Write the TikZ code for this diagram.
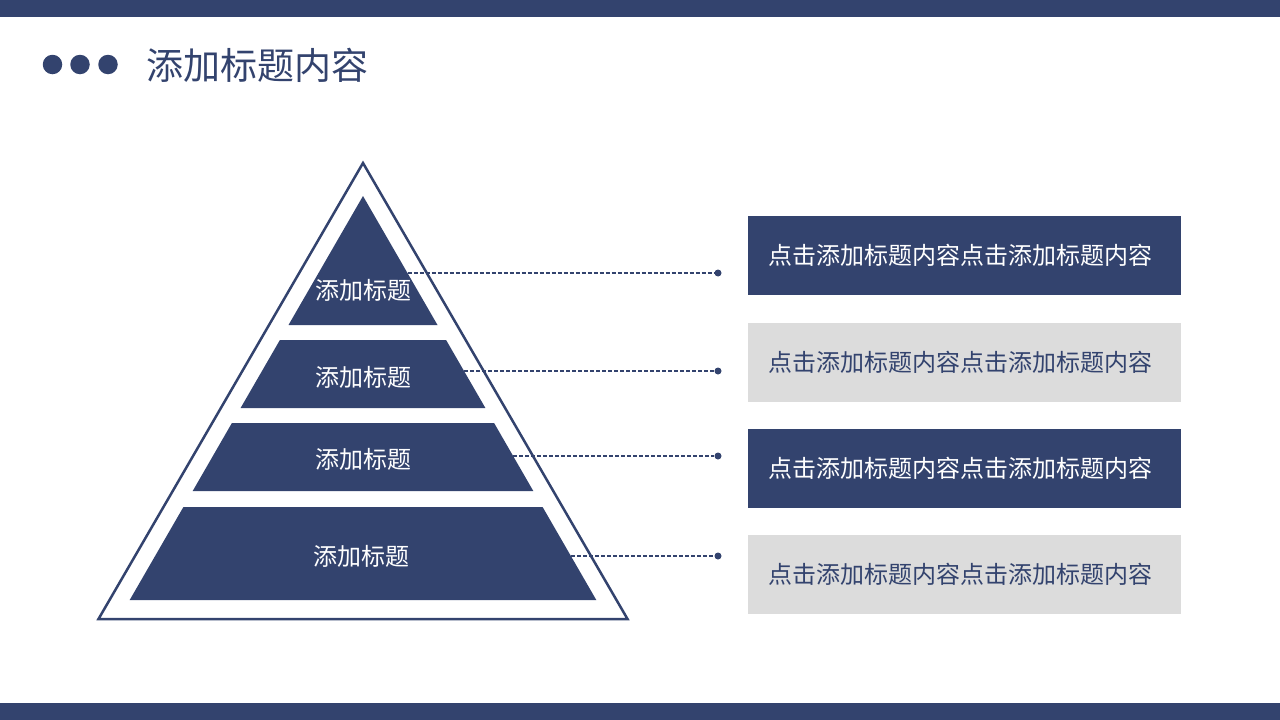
\documentclass[tikz,border=0pt]{standalone}
\usepackage{fontspec}
\setmainfont{Noto Sans CJK SC}
\definecolor{navy}{HTML}{33436E}
\definecolor{lgray}{HTML}{DCDCDC}
\tikzset{
  band/.style={fill=navy, draw=none},
  bandlabel/.style={text=white, font=\fontsize{24}{28}\selectfont, inner sep=0pt},
  darkbox/.style={fill=navy, text=white, minimum width=433pt, minimum height=79pt, inner sep=0pt, font=\fontsize{24}{28}\selectfont},
  lightbox/.style={fill=lgray, text=navy, minimum width=433pt, minimum height=79pt, inner sep=0pt, font=\fontsize{24}{28}\selectfont},
  enddot/.style={circle, fill=navy, inner sep=0pt, minimum size=7pt},
  titledot/.style={circle, fill=navy, inner sep=0pt, minimum size=19.5pt},
  leader/.style={navy, line width=1.1pt, dash pattern=on 4pt off 2pt}
}
\begin{document}
\begin{tikzpicture}[x=1pt,y=-1pt]
\useasboundingbox (0,0) rectangle (1280,720);
% bars
\fill[navy] (0,0) rectangle (1280,16.5);
\fill[navy] (0,703) rectangle (1280,720);
% title
\node[titledot] (t1) at (52.5,64.5) {};
\node[titledot] (t2) at (80,64.5) {};
\node[titledot] (t3) at (108,64.5) {};
\node[anchor=west, text=navy, font=\fontsize{37}{42}\selectfont, inner sep=0pt] (title) at (146,65) {添加标题内容};
% outer triangle
\draw[navy, line width=2.5pt, line join=miter] (363,163) -- (627.5,619) -- (98.5,619) -- cycle;
% bands
\fill[band] (363,196) -- (437.5,325) -- (288.5,325) -- cycle;
\fill[band] (279.9,340) -- (446.1,340) -- (485.4,408) -- (240.6,408) -- cycle;
\fill[band] (231.9,423) -- (494.1,423) -- (533.3,491) -- (192.7,491) -- cycle;
\fill[band] (183.4,507) -- (542.6,507) -- (596.3,600) -- (129.7,600) -- cycle;
% band labels
\node[bandlabel] (l1) at (363,290) {添加标题};
\node[bandlabel] (l2) at (363,377) {添加标题};
\node[bandlabel] (l3) at (363,459) {添加标题};
\node[bandlabel] (l4) at (361,556) {添加标题};
% leader start points
\coordinate (e1) at (407.5,273);
\coordinate (e2) at (464,371);
\coordinate (e3) at (513,456);
\coordinate (e4) at (571,556);
% end dots
\node[enddot] (d1) at (718,273) {};
\node[enddot] (d2) at (718,371) {};
\node[enddot] (d3) at (718,456) {};
\node[enddot] (d4) at (718,556) {};
\draw[leader] (e1) -- (d1);
\draw[leader] (e2) -- (d2);
\draw[leader] (e3) -- (d3);
\draw[leader] (e4) -- (d4);
% boxes
\node[darkbox] (b1) at (964.5,255.5) {\kern-8pt点击添加标题内容点击添加标题内容};
\node[lightbox] (b2) at (964.5,362) {\kern-8pt点击添加标题内容点击添加标题内容};
\node[darkbox] (b3) at (964.5,468) {\kern-8pt点击添加标题内容点击添加标题内容};
\node[lightbox] (b4) at (964.5,574.5) {\kern-8pt点击添加标题内容点击添加标题内容};
\end{tikzpicture}
\end{document}
